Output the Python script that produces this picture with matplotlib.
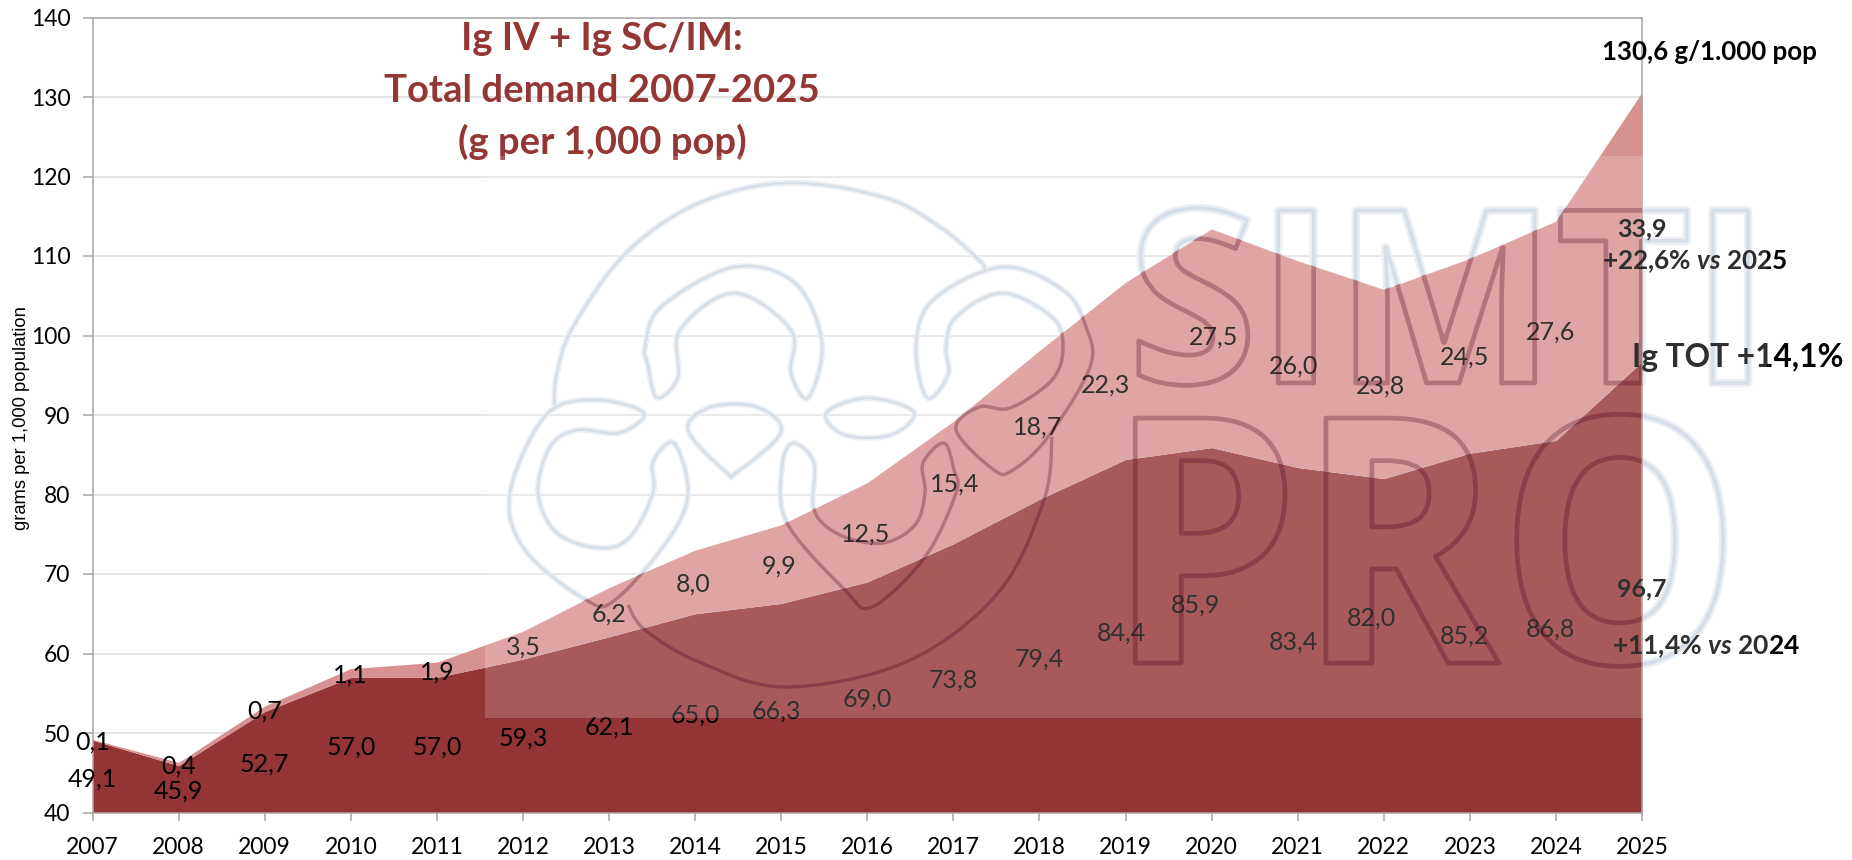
import numpy as np
from matplotlib import pyplot as plt
from matplotlib import patheffects as pe
from matplotlib.patches import PathPatch, Rectangle
from matplotlib.path import Path
from matplotlib.transforms import Affine2D

W, H = 1852, 860

years = list(range(2007, 2026))
ig_iv = [49.1, 45.9, 52.7, 57.0, 57.0, 59.3, 62.1, 65.0, 66.3, 69.0, 73.8, 79.4, 84.4, 85.9, 83.4, 82.0, 85.2, 86.8, 96.7]
ig_sc = [0.1, 0.4, 0.7, 1.1, 1.9, 3.5, 6.2, 8.0, 9.9, 12.5, 15.4, 18.7, 22.3, 27.5, 26.0, 23.8, 24.5, 27.6, 33.9]

# where the data labels sit, in axis units
iv_label_y = [44.2, 42.7, 46.1, 48.2, 48.2, 49.4, 50.8, 52.3, 52.8, 54.3, 56.7, 59.3, 62.6, 66.1, 61.4, 64.5, 62.2, 63.1, 68.1]
sc_label_y = [48.9, 45.8, 52.8, 57.3, 57.7, 60.8, 65.0, 68.7, 71.0, 75.0, 81.3, 88.5, 93.8, 99.8, 96.2, 93.6, 97.3, 100.4, 113.4]
iv_label_dx = [0, 0, 0, 0, 0, 0, 0, 0, -0.05, 0, 0, 0, -0.05, -0.19, -0.05, -0.14, -0.06, -0.06, 0]
sc_label_dx = [0, 0, 0, 0, 0, 0, 0, -0.02, -0.02, -0.02, 0.02, -0.02, -0.23, 0.02, -0.05, -0.04, -0.06, -0.06, 0]

DARK = '#943535'
PINK = '#D89191'
FONT = 'Lato'

plt.rcParams['font.family'] = FONT
plt.rcParams['mathtext.fontset'] = 'custom'
plt.rcParams['mathtext.bfit'] = 'Lato:italic:bold'

fig = plt.figure(figsize=(W / 100, H / 100), dpi=100)
ax = fig.add_axes([92.5 / W, (H - 812.5) / H, (1642 - 92.5) / W, (812.5 - 17.5) / H])

# pixel coordinates of the picture, origin top left
px = Affine2D().scale(1, -1).translate(0, H)


class Outline(pe.AbstractPathEffect):
    # only the outline of the glyphs, squeezed in x around x0
    def __init__(self, x0, sx, color, lw):
        super().__init__()
        self.squeeze = Affine2D().translate(-x0, 0).scale(sx, 1).translate(x0, 0)
        self.color = color
        self.lw = lw

    def draw_path(self, renderer, gc, tpath, affine, rgbFace=None):
        gc0 = renderer.new_gc()
        gc0.copy_properties(gc)
        gc0.set_foreground(self.color)
        gc0.set_linewidth(self.lw)
        renderer.draw_path(gc0, tpath, affine + self.squeeze, None)
        gc0.restore()


def closed_curve(points, closed=True):
    pts = np.array(points, dtype=float)
    if closed:
        pts = np.vstack([pts[-1], pts, pts[0], pts[1]])
    else:
        pts = np.vstack([pts[0], pts, pts[-1]])
    out = []
    for i in range(1, len(pts) - 2):
        p0, p1, p2, p3 = pts[i - 1], pts[i], pts[i + 1], pts[i + 2]
        for t in np.linspace(0, 1, 12, endpoint=False):
            out.append(0.5 * (2 * p1 + (p2 - p0) * t + (2 * p0 - 5 * p1 + 4 * p2 - p3) * t ** 2
                              + (3 * p1 - p0 - 3 * p2 + p3) * t ** 3))
    out.append(pts[-2])
    return Path(np.array(out))


# the emblem of the watermark
emblem = [
    closed_curve([(554, 405), (557, 373), (573, 327), (626, 253), (699, 203), (787, 183), (883, 197), (940, 227), (979, 260), (985, 270)], False),
    closed_curve([(628, 605), (645, 630), (699, 662), (785, 687), (906, 662), (998, 593), (1044, 500), (1052, 437)], False),
    closed_curve([(657, 398), (648, 365), (645, 347), (661, 307), (734, 267), (795, 283), (822, 343), (808, 398), (791, 373),
                  (791, 330), (734, 293), (680, 330), (678, 377)]),
    closed_curve([(927, 398), (916, 347), (933, 300), (1002, 267), (1063, 290), (1086, 327), (1090, 367), (1048, 437), (1013, 470),
                  (994, 470), (956, 430), (979, 407), (1010, 408), (1052, 380), (1063, 347), (1052, 317), (1002, 293), (956, 317),
                  (946, 347), (948, 375)]),
    closed_curve([(596, 400), (546, 415), (510, 493), (525, 550), (586, 600), (615, 600), (668, 540), (688, 493), (674, 443),
                  (653, 462), (653, 493), (630, 537), (600, 548), (557, 533), (538, 493), (550, 447), (577, 430), (619, 433), (644, 413)]),
    closed_curve([(688, 430), (711, 407), (757, 407), (781, 432), (737, 472), (726, 472)]),
    closed_curve([(826, 413), (868, 398), (914, 412), (891, 435), (845, 435)]),
    closed_curve([(787, 523), (782, 467), (793, 443), (814, 463), (814, 510), (840, 535), (883, 543), (915, 525), (925, 493),
                  (923, 463), (944, 443), (954, 470), (956, 493), (925, 557), (872, 607), (845, 590)]),
]
emblem_path = Path.make_compound_path(*emblem)

# white-ish layer of the watermark, below the areas
for colour, lw in [('#E9ECF1', 6.0), ('#CBD8E4', 2.6)]:
    patch = PathPatch(emblem_path, transform=px, fc='none', ec=colour, lw=lw * 0.72, zorder=1.5)
    ax.add_patch(patch)
    patch.set_clip_on(False)

words = [('SIMTI', 1128, 383, 174, 0.97), ('PRO', 1108, 663, 247, 0.885)]
for word, x0, y0, size, sx in words:
    ax.text(x0, y0, word, transform=px, fontsize=size, family='Open Sans', weight='bold', zorder=1.5,
            path_effects=[Outline(x0, sx, '#E9ECF1', 6.0),
                          Outline(x0, sx, '#CBD8E4', 2.6)])

# the areas
total = [a + b for a, b in zip(ig_iv, ig_sc)]
ax.fill_between(years, 40, ig_iv, color=DARK, lw=0, zorder=2)
ax.fill_between(years, ig_iv, total, color=PINK, lw=0, zorder=2)

ax.set_xlim(2007, 2025)
ax.set_ylim(40, 140)
ax.set_xticks(years)
ax.set_yticks(range(40, 141, 10))
ax.grid(axis='y', color='#DDDDDD', lw=1.1)
ax.set_axisbelow(True)
for spine in ax.spines.values():
    spine.set_color('#A6A6A6')
    spine.set_linewidth(1.1)
    spine.set_zorder(3)
ax.tick_params(axis='x', length=6, width=1.1, color='#A6A6A6', labelsize=16.5, pad=12)
ax.tick_params(axis='y', length=7, width=1.1, color='#A6A6A6', labelsize=16.5, pad=9)
ax.text(22, 418, 'grams per 1,000 population', transform=px, family='Liberation Sans', fontsize=13.2,
        rotation=90, ha='center', va='center')

# data labels, the last pair is written apart in bold
for i, year in enumerate(years[:-1]):
    ax.text(year + iv_label_dx[i], iv_label_y[i], f'{ig_iv[i]:.1f}'.replace('.', ','), fontsize=18,
            ha='center', va='center', zorder=4)
    ax.text(year + sc_label_dx[i], sc_label_y[i], f'{ig_sc[i]:.1f}'.replace('.', ','), fontsize=18,
            ha='center', va='center', zorder=4)
ax.text(years[-1], iv_label_y[-1], f'{ig_iv[-1]:.1f}'.replace('.', ','), fontsize=18, weight='bold',
        ha='center', va='center', zorder=4)
ax.text(years[-1], sc_label_y[-1], f'{ig_sc[-1]:.1f}'.replace('.', ','), fontsize=18, weight='bold',
        ha='center', va='center', zorder=4)

for line, y in zip(['Ig IV + Ig SC/IM:', 'Total demand 2007-2025', '(g per 1,000 pop)'], [39, 91, 142]):
    ax.text(602, y, line, transform=px, fontsize=27.5, weight='bold', color='#943634', ha='center', va='center', zorder=4)

ax.text(1602, 52, '130,6 g/1.000 pop', transform=px, fontsize=18.6, weight='bold', va='center', zorder=4)
ax.text(1602, 262, r'+22,6% $\mathbfit{vs}$ 2025', transform=px, fontsize=18.8, weight='bold', va='center', zorder=4)
ax.text(1632, 358, 'Ig TOT +14,1%', transform=px, fontsize=22.8, weight='bold', va='center', zorder=4)
ax.text(1612, 647, r'+11,4% $\mathbfit{vs}$ 2024', transform=px, fontsize=19, weight='bold', va='center', zorder=4)

# pale box of the watermark image lies over areas and labels
box = Rectangle((485, 155.5), 1767 - 485, 717.5 - 155.5, transform=px, fc='white', ec='none', alpha=0.19, zorder=5)
ax.add_patch(box)
box.set_clip_on(False)

# dark layer of the watermark, only where it crosses the areas
area_path = Path(list(zip(years, total)) + [(years[-1], 40), (years[0], 40), (years[0], total[0])])
patch = PathPatch(emblem_path, transform=px, fc='none', ec=(0.28, 0, 0.12, 0.3), lw=3.4 * 0.72, zorder=6)
ax.add_patch(patch)
patch.set_clip_path(area_path, ax.transData)
for word, x0, y0, size, sx in words:
    t = ax.text(x0, y0, word, transform=px, fontsize=size, family='Open Sans', weight='bold', zorder=6,
                path_effects=[Outline(x0, sx, (0.28, 0, 0.12, 0.3), 3.4)])
    t.set_clip_path(area_path, ax.transData)
    t.set_clip_on(True)

fig.savefig('out.png', dpi=100)
